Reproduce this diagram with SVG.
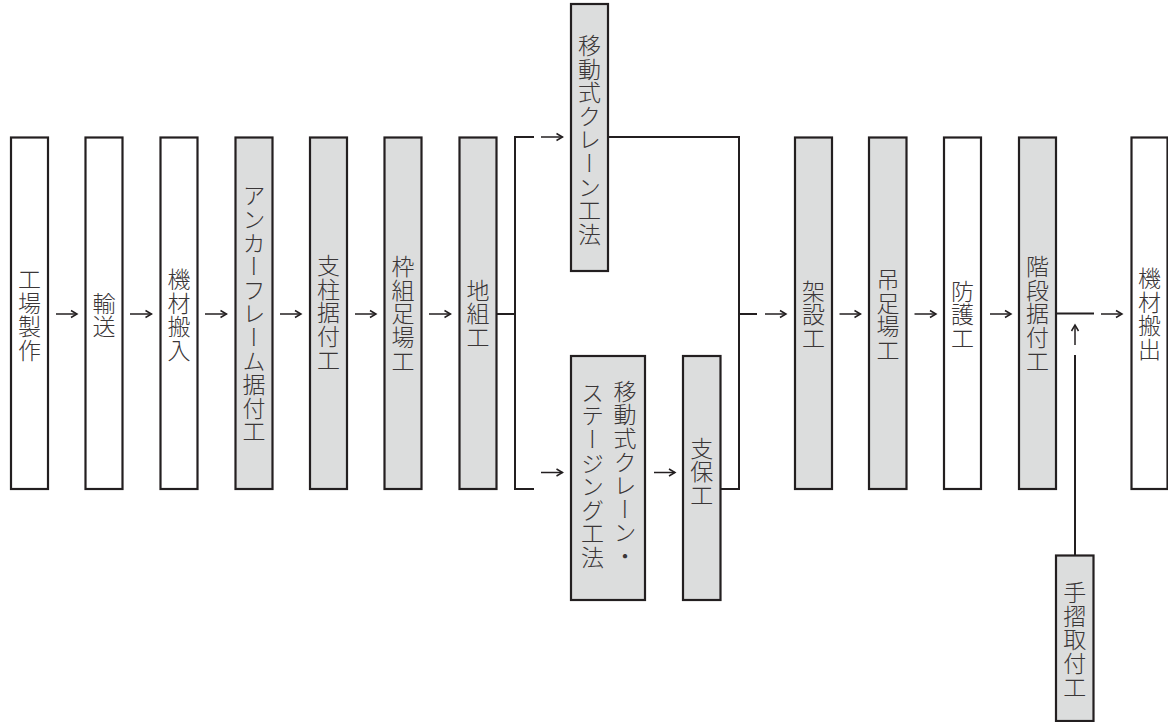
<svg xmlns="http://www.w3.org/2000/svg" width="1168" height="722" viewBox="0 0 1168 722">
<defs>
<marker id="ah" markerUnits="userSpaceOnUse" markerWidth="10" markerHeight="10" refX="7" refY="5" orient="auto">
<path d="M1,1.5 L7,5 L1,8.5" fill="none" stroke="#231f20" stroke-width="1.5"/>
</marker>
</defs>
<style>
.b{stroke:#231f20;stroke-width:2.2;}
.w{fill:#ffffff;}
.g{fill:#dcdddd;}
.t{font-family:"Noto Sans CJK JP","Noto Sans CJK SC",sans-serif;font-size:23px;font-weight:300;fill:#3a3637;writing-mode:vertical-rl;text-anchor:middle;letter-spacing:0.6px;}
.c{fill:none;stroke:#231f20;stroke-width:2;}
.a{fill:none;stroke:#231f20;stroke-width:1.5;marker-end:url(#ah);}
</style>
<rect width="1168" height="722" fill="#ffffff"/>
<g id="n1"><rect class="b w" x="11" y="137.5" width="37" height="351.5"/><text class="t" x="29.5" y="315">工場製作</text></g>
<g id="n2"><rect class="b w" x="85.5" y="137.5" width="37" height="351.5"/><text class="t" x="104" y="315">輸送</text></g>
<g id="n3"><rect class="b w" x="160.5" y="137.5" width="37" height="351.5"/><text class="t" x="179" y="315">機材搬入</text></g>
<g id="n4"><rect class="b g" x="235.5" y="137.5" width="37" height="351.5"/><text class="t" x="254" y="314">アンカーフレーム据付工</text></g>
<g id="n5"><rect class="b g" x="310" y="137.5" width="37" height="351.5"/><text class="t" x="328.5" y="313">支柱据付工</text></g>
<g id="n6"><rect class="b g" x="384.5" y="137.5" width="37" height="351.5"/><text class="t" x="403" y="314">枠組足場工</text></g>
<g id="n7"><rect class="b g" x="459.5" y="137.5" width="37" height="351.5"/><text class="t" x="478" y="314">地組工</text></g>
<g id="n8"><rect class="b g" x="571" y="4" width="37" height="267"/><text class="t" x="589.5" y="140">移動式クレーン工法</text></g>
<g id="n9"><rect class="b g" x="571" y="356" width="74" height="244"/><text class="t" x="625" y="474">移動式クレーン・</text><text class="t" x="592.5" y="475">ステージング工法</text></g>
<g id="n10"><rect class="b g" x="683" y="356" width="37.5" height="244"/><text class="t" x="701.7" y="472">支保工</text></g>
<g id="n11"><rect class="b g" x="795" y="137.5" width="37" height="351.5"/><text class="t" x="813.5" y="315">架設工</text></g>
<g id="n12"><rect class="b g" x="869" y="137.5" width="37.5" height="351.5"/><text class="t" x="888" y="315">吊足場工</text></g>
<g id="n13"><rect class="b w" x="944" y="137.5" width="37" height="351.5"/><text class="t" x="962.5" y="315">防護工</text></g>
<g id="n14"><rect class="b g" x="1019" y="137.5" width="37" height="351.5"/><text class="t" x="1037.5" y="314">階段据付工</text></g>
<g id="n15"><rect class="b w" x="1131.5" y="137.5" width="36" height="351.5"/><text class="t" x="1149.5" y="314">機材搬出</text></g>
<g id="n16"><rect class="b g" x="1056" y="555.5" width="37.5" height="165.5"/><text class="t" x="1074.7" y="640">手摺取付工</text></g>
<g id="connectors">
<path class="a" d="M56,314 H77"/>
<path class="a" d="M130,314 H151.5"/>
<path class="a" d="M205,314 H226.5"/>
<path class="a" d="M280,314 H301"/>
<path class="a" d="M355,314 H376"/>
<path class="a" d="M429,314 H450.5"/>
<path class="c" d="M496.5,314 H515 M534,137 H515 V489 H534"/>
<path class="a" d="M541,137 H562.5"/>
<path class="a" d="M541,472.5 H562.5"/>
<path class="a" d="M654,472.5 H675"/>
<path class="c" d="M608,137 H739 V489 H720.5 M739,314 H757"/>
<path class="a" d="M765,314 H786"/>
<path class="a" d="M839.5,314 H860.5"/>
<path class="a" d="M914.5,314 H936"/>
<path class="a" d="M990,314 H1011"/>
<path class="c" d="M1056,313.5 H1094"/>
<path class="a" d="M1101,314 H1122"/>
<path class="a" d="M1075,345 V325"/>
<path class="c" d="M1075,355 V555.5"/>
</g>
</svg>
